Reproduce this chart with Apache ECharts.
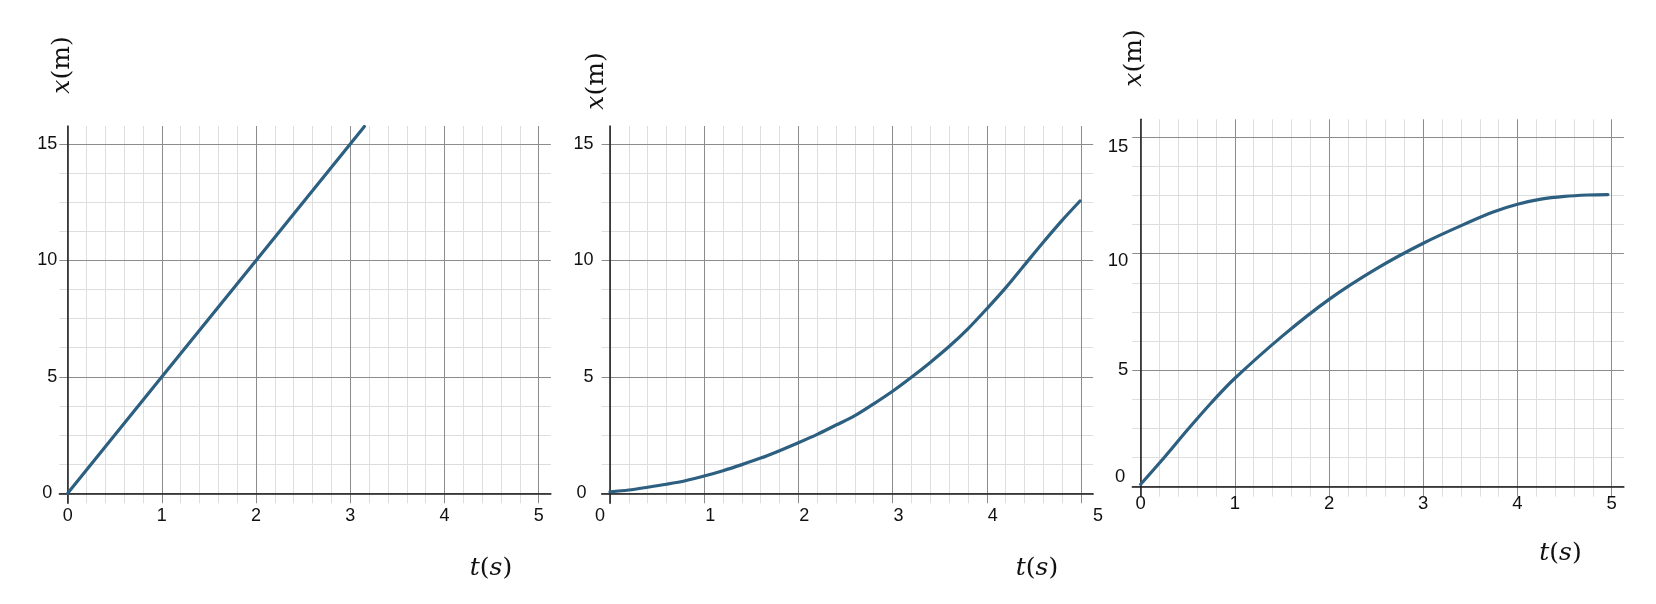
<!DOCTYPE html>
<html>
<head>
<meta charset="utf-8">
<script src="https://cdn.jsdelivr.net/npm/echarts@6/dist/echarts.min.js"></script>
<style>
html,body{margin:0;padding:0;background:#ffffff;}
#chart{width:1656px;height:604px;}
</style>
</head>
<body>
<div id="chart"></div>
<script>
// ---------------- data ----------------
// Panel 1: constant velocity
const uniformT = [0, 1, 2, 3, 3.15];
const uniformX = [0, 5, 10, 15, 15.75];
// Panel 2: speeding up
const accelT = [0, 0.2, 0.4, 0.6, 0.8, 1, 1.2, 1.4, 1.6, 1.8, 2, 2.2, 2.4, 2.6, 2.8, 3, 3.2, 3.4, 3.6, 3.8, 4, 4.2, 4.4, 4.6, 4.8, 4.99];
const accelX = [0.06, 0.14, 0.26, 0.39, 0.54, 0.74, 0.97, 1.23, 1.51, 1.83, 2.17, 2.53, 2.93, 3.33, 3.84, 4.38, 4.98, 5.62, 6.3, 7.06, 7.92, 8.82, 9.8, 10.78, 11.72, 12.55];
// Panel 3: slowing down
const decelT = [0, 0.25, 0.5, 0.75, 1, 1.5, 2, 2.5, 3, 3.5, 3.75, 4, 4.25, 4.5, 4.75, 4.96];
const decelX = [0.1, 1.25, 2.45, 3.6, 4.65, 6.45, 8.04, 9.35, 10.45, 11.38, 11.8, 12.12, 12.34, 12.46, 12.52, 12.54];

// tick values
const xTickValues = [0, 1, 2, 3, 4, 5];
const yTickValues = [0, 5, 10, 15];
const xMinorValues = [0.2, 0.4, 0.6, 0.8, 1.2, 1.4, 1.6, 1.8, 2.2, 2.4, 2.6, 2.8, 3.2, 3.4, 3.6, 3.8, 4.2, 4.4, 4.6, 4.8];
const yMinorValues = [1.25, 2.5, 3.75, 6.25, 7.5, 8.75, 11.25, 12.5, 13.75];
const xTitle = 't(s)';
const yTitle = 'x(m)';

// ---------------- layout / style ----------------
const X_MIN = -0.089, X_MAX = 5.13, Y_MIN = -0.43, Y_MAX = 15.77;
const GRID_W = 491.6, GRID_H = 377.3;
const LINE_COLOR = '#2c5f80';
const AXIS_COLOR = '#1c1c1c';
const MAJOR_COLOR = '#8c8c8c';
const MINOR_COLOR = '#dedede';
const LABEL_FONT = 'Liberation Sans, Arial, sans-serif';
const TITLE_FONT = 'DejaVu Serif, Liberation Serif, serif';
const TITLE_SIZE = 25;

const panels = [
  {left: 59.3, top: 126, xMargin: 4, yMargin: 2, fontSize: 18,
   xRich: {}, xKey: function (v) { return 'n'; },
   yRich: {z: {padding: [0, 5, 0, 0]}}, yKey: function (v) { return v === 0 ? 'z' : 'n'; },
   yTitlePos: [62, 65], xTitlePos: [491, 568]},
  {left: 601.6, top: 126, xMargin: 4, yMargin: 8, fontSize: 18,
   xRich: {l: {padding: [0, 20, 0, 0]}, r: {padding: [0, 0, 0, 12]}, f: {padding: [0, 0, 0, 34]}},
   xKey: function (v) { return v === 0 ? 'l' : (v === 5 ? 'f' : 'r'); },
   yRich: {z: {padding: [0, 7, 0, 0]}}, yKey: function (v) { return v === 0 ? 'z' : 'n'; },
   yTitlePos: [596.7, 81], xTitlePos: [1037, 568]},
  {left: 1132.3, top: 119.3, xMargin: -2, yMargin: 4, fontSize: 18.5,
   xRich: {}, xKey: function (v) { return 'n'; },
   yRich: {a: {padding: [19, 0, 0, 0]}, b: {padding: [15, 0, 0, 0]}, z: {padding: [0, 3, 20, 0]}},
   yKey: function (v) { return v === 15 ? 'a' : (v === 10 ? 'b' : (v === 0 ? 'z' : 'n')); },
   yTitlePos: [1134.6, 58], xTitlePos: [1560.5, 553]}
];
const seriesData = [
  [uniformT, uniformX, false],
  [accelT, accelX, 0.3],
  [decelT, decelX, 0.35]
];

function richWithFont(r, size) {
  const out = {n: {}};
  Object.keys(r).forEach(function (k) { out[k] = Object.assign({}, r[k]); });
  Object.keys(out).forEach(function (k) {
    out[k].fontSize = size; out[k].fontFamily = LABEL_FONT; out[k].color = '#111111';
  });
  return out;
}

const grids = [], xAxes = [], yAxes = [], series = [], graphics = [];
panels.forEach(function (p, i) {
  grids.push({left: p.left, top: p.top, width: GRID_W, height: GRID_H, outerBoundsMode: 'none', containLabel: false});
  const majorX = xAxes.length, majorY = yAxes.length;
  // major axes
  xAxes.push({
    type: 'value', gridIndex: i, min: X_MIN, max: X_MAX, z: 1, position: 'bottom',
    axisLine: {show: true, onZero: true, onZeroAxisIndex: majorY, lineStyle: {color: AXIS_COLOR, width: 1.5}},
    axisTick: {show: false, customValues: xTickValues},
    axisLabel: {show: true, customValues: xTickValues, margin: p.xMargin,
      fontSize: p.fontSize, fontFamily: LABEL_FONT, color: '#111111',
      formatter: function (v) { return '{' + p.xKey(v) + '|' + v + '}'; },
      rich: richWithFont(p.xRich, p.fontSize)},
    splitLine: {show: true, lineStyle: {color: MAJOR_COLOR, width: 1}}
  });
  yAxes.push({
    type: 'value', gridIndex: i, min: Y_MIN, max: Y_MAX, z: 1, position: 'left',
    axisLine: {show: true, onZero: true, onZeroAxisIndex: majorX, lineStyle: {color: AXIS_COLOR, width: 1.5}},
    axisTick: {show: false, customValues: yTickValues},
    axisLabel: {show: true, customValues: yTickValues, margin: p.yMargin,
      fontSize: p.fontSize, fontFamily: LABEL_FONT, color: '#111111',
      formatter: function (v) { return '{' + p.yKey(v) + '|' + v + '}'; },
      rich: richWithFont(p.yRich, p.fontSize)},
    splitLine: {show: true, lineStyle: {color: MAJOR_COLOR, width: 1}}
  });
  // minor grid axes
  xAxes.push({
    type: 'value', gridIndex: i, min: X_MIN, max: X_MAX, z: 0, position: 'bottom',
    axisLine: {show: false, onZero: false}, axisTick: {show: false, customValues: xMinorValues},
    axisLabel: {show: false},
    splitLine: {show: true, lineStyle: {color: MINOR_COLOR, width: 1}}
  });
  yAxes.push({
    type: 'value', gridIndex: i, min: Y_MIN, max: Y_MAX, z: 0, position: 'left',
    axisLine: {show: false, onZero: false}, axisTick: {show: false, customValues: yMinorValues},
    axisLabel: {show: false},
    splitLine: {show: true, lineStyle: {color: MINOR_COLOR, width: 1}}
  });
  const sd = seriesData[i];
  series.push({
    type: 'line', xAxisIndex: majorX, yAxisIndex: majorY,
    data: sd[0].map(function (t, k) { return [t, sd[1][k]]; }),
    smooth: sd[2], showSymbol: false, symbol: 'none', clip: true, z: 5,
    lineStyle: {color: LINE_COLOR, width: 3.2, cap: 'round', join: 'round'},
    emphasis: {disabled: true}, silent: true
  });
  graphics.push({
    type: 'text', x: p.yTitlePos[0], y: p.yTitlePos[1], rotation: Math.PI / 2, silent: true,
    style: {
      text: '{i|' + yTitle.charAt(0) + '}{n|' + yTitle.slice(1) + '}',
      align: 'center', verticalAlign: 'middle',
      rich: {
        i: {fontFamily: TITLE_FONT, fontStyle: 'italic', fontSize: TITLE_SIZE, fill: '#111'},
        n: {fontFamily: TITLE_FONT, fontSize: TITLE_SIZE, fill: '#111'}
      }
    }
  });
  graphics.push({
    type: 'text', x: p.xTitlePos[0], y: p.xTitlePos[1], silent: true,
    style: {
      text: '{i|' + xTitle.charAt(0) + '}{n|(}{i|' + xTitle.charAt(2) + '}{n|)}',
      align: 'center', verticalAlign: 'middle',
      rich: {
        i: {fontFamily: TITLE_FONT, fontStyle: 'italic', fontSize: TITLE_SIZE, fill: '#111'},
        n: {fontFamily: TITLE_FONT, fontSize: TITLE_SIZE, fill: '#111'}
      }
    }
  });
});

const chart = echarts.init(document.getElementById('chart'), null, {renderer: 'canvas'});
chart.setOption({
  animation: false,
  backgroundColor: '#ffffff',
  grid: grids,
  xAxis: xAxes,
  yAxis: yAxes,
  series: series,
  graphic: graphics
});
</script>
</body>
</html>
